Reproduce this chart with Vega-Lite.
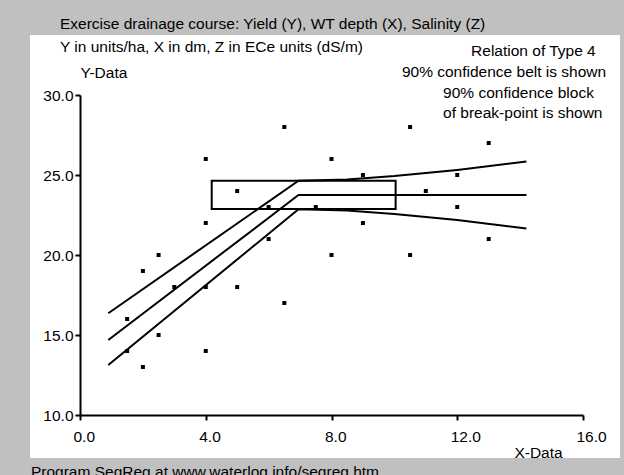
{
  "$schema": "https://vega.github.io/schema/vega-lite/v6.json",
  "width": 590,
  "height": 423,
  "autosize": {"type": "none"},
  "padding": {"left": 30, "top": 35, "right": 4, "bottom": 17},
  "background": "#c0c0c0",
  "title": {
    "text": "Exercise drainage course: Yield (Y), WT depth (X), Salinity (Z)",
    "anchor": "start",
    "frame": "group",
    "dx": 30,
    "offset": 3,
    "font": "Liberation Sans",
    "fontSize": 15.5,
    "fontWeight": "normal",
    "color": "black"
  },
  "config": {
    "view": {"stroke": null, "fill": "white"},
    "font": "Liberation Sans",
    "axis": {
      "grid": false,
      "domainColor": "black",
      "domainWidth": 2,
      "tickColor": "black",
      "tickWidth": 2,
      "tickSize": 5,
      "labelColor": "black",
      "labelFont": "Liberation Sans",
      "labelFontSize": 15.5,
      "titleColor": "black",
      "titleFont": "Liberation Sans",
      "titleFontSize": 15.5,
      "titleFontWeight": "normal"
    }
  },
  "datasets": {
    "points": [
      {"x": 1.5, "y": 16}, {"x": 1.5, "y": 14},
      {"x": 2, "y": 19}, {"x": 2, "y": 13},
      {"x": 2.5, "y": 20}, {"x": 2.5, "y": 15},
      {"x": 3, "y": 18},
      {"x": 4, "y": 26}, {"x": 4, "y": 22}, {"x": 4, "y": 18}, {"x": 4, "y": 14},
      {"x": 5, "y": 24}, {"x": 5, "y": 18},
      {"x": 6, "y": 23}, {"x": 6, "y": 21},
      {"x": 6.5, "y": 28}, {"x": 6.5, "y": 17},
      {"x": 7.5, "y": 23},
      {"x": 8, "y": 26}, {"x": 8, "y": 20},
      {"x": 9, "y": 25}, {"x": 9, "y": 22},
      {"x": 10.5, "y": 28}, {"x": 10.5, "y": 20},
      {"x": 11, "y": 24},
      {"x": 12, "y": 25}, {"x": 12, "y": 23},
      {"x": 13, "y": 27}, {"x": 13, "y": 21}
    ],
    "lines": [
      {"series": "upper", "x": 0.9, "y": 16.36},
      {"series": "upper", "x": 6.95, "y": 24.64},
      {"series": "upper", "x": 8.5, "y": 24.72},
      {"series": "upper", "x": 10, "y": 24.93},
      {"series": "upper", "x": 12, "y": 25.32},
      {"series": "upper", "x": 14.2, "y": 25.84},
      {"series": "fit", "x": 0.9, "y": 14.69},
      {"series": "fit", "x": 6.95, "y": 23.75},
      {"series": "fit", "x": 14.2, "y": 23.75},
      {"series": "lower", "x": 0.9, "y": 13.12},
      {"series": "lower", "x": 6.95, "y": 22.86},
      {"series": "lower", "x": 8.5, "y": 22.78},
      {"series": "lower", "x": 10, "y": 22.57},
      {"series": "lower", "x": 12, "y": 22.18},
      {"series": "lower", "x": 14.2, "y": 21.66}
    ],
    "block": [
      {"x": 4.19, "x2": 10.04, "y": 22.87, "y2": 24.64}
    ],
    "notes": [
      {"x": -0.636, "y": 33.0, "text": "Y in units/ha, X in dm, Z in ECe units (dS/m)"},
      {"x": 12.44, "y": 32.75, "text": "Relation of Type 4"},
      {"x": 10.24, "y": 31.44, "text": "90% confidence belt is shown"},
      {"x": 11.55, "y": 30.125, "text": "90% confidence block"},
      {"x": 11.55, "y": 28.875, "text": "of break-point is shown"},
      {"x": -1.56, "y": 6.45, "text": "Program SegReg at www.waterlog.info/segreg.htm"}
    ]
  },
  "layer": [
    {
      "data": {"name": "block"},
      "mark": {"type": "rect", "fillOpacity": 0, "stroke": "black", "strokeWidth": 2},
      "encoding": {
        "x": {
          "field": "x",
          "type": "quantitative",
          "scale": {"domain": [0, 16], "range": [50, 553], "nice": false, "zero": false},
          "axis": {
            "values": [0, 4, 8, 12, 16],
            "format": ".1f",
            "offset": -43,
            "labelAlign": "left",
            "labelOffset": -7,
            "labelFlush": false,
            "labelPadding": 9,
            "title": "X-Data",
            "titleX": 508,
            "titleY": 37,
            "titleAlign": "center",
            "titleBaseline": "middle"
          }
        },
        "x2": {"field": "x2"},
        "y": {
          "field": "y",
          "type": "quantitative",
          "scale": {"domain": [10, 30], "range": [380, 60], "nice": false, "zero": false},
          "axis": {
            "values": [10, 15, 20, 25, 30],
            "format": ".1f",
            "offset": -50,
            "labelPadding": 2,
            "title": "Y-Data",
            "titleAngle": 0,
            "titleX": 0,
            "titleY": 37,
            "titleAlign": "left",
            "titleBaseline": "middle"
          }
        },
        "y2": {"field": "y2"}
      }
    },
    {
      "data": {"name": "lines"},
      "mark": {"type": "line", "color": "black", "strokeWidth": 2},
      "encoding": {
        "x": {"field": "x", "type": "quantitative"},
        "y": {"field": "y", "type": "quantitative"},
        "detail": {"field": "series"}
      }
    },
    {
      "data": {"name": "points"},
      "mark": {"type": "square", "size": 16, "color": "black", "filled": true, "opacity": 1},
      "encoding": {
        "x": {"field": "x", "type": "quantitative"},
        "y": {"field": "y", "type": "quantitative"}
      }
    },
    {
      "data": {"name": "notes"},
      "mark": {"type": "text", "align": "left", "baseline": "middle", "font": "Liberation Sans", "fontSize": 15.5, "color": "black"},
      "encoding": {
        "x": {"field": "x", "type": "quantitative"},
        "y": {"field": "y", "type": "quantitative"},
        "text": {"field": "text"}
      }
    }
  ]
}
